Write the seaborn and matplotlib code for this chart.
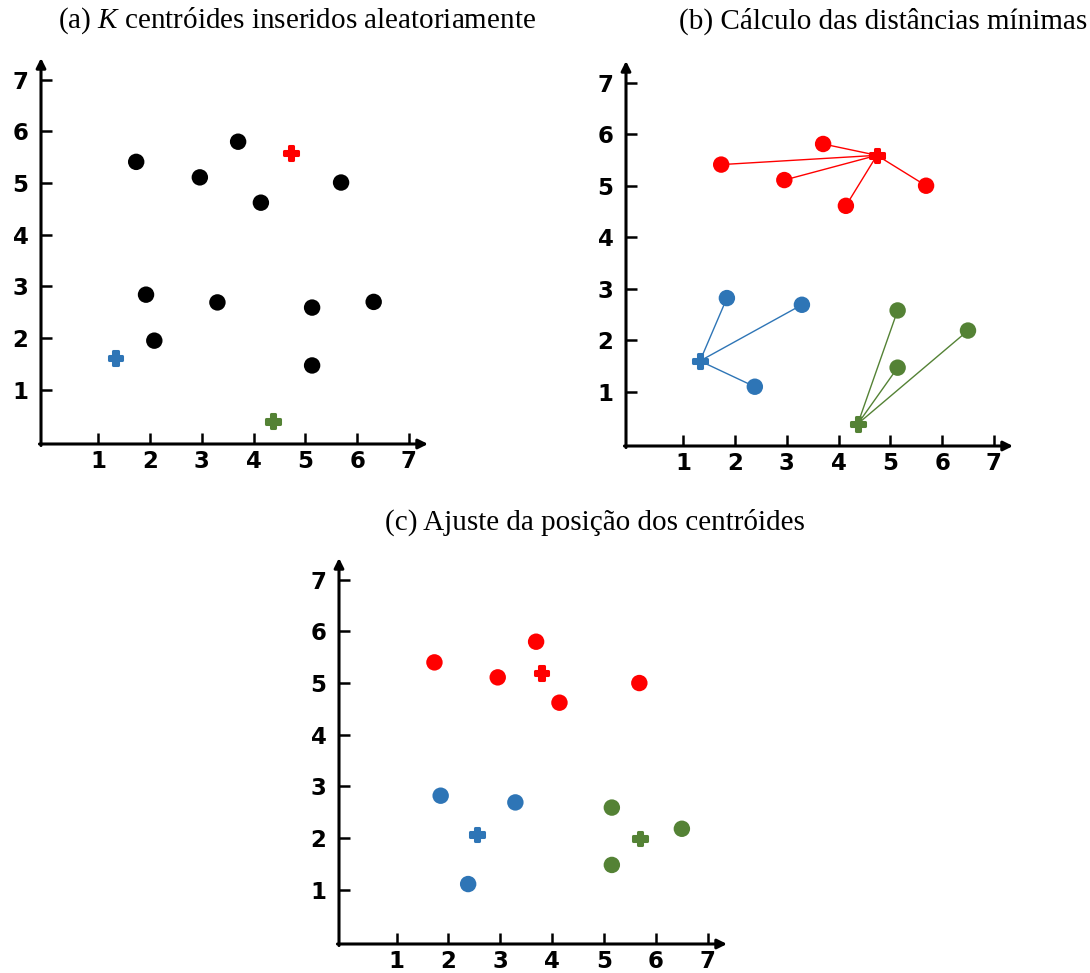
import numpy as np
import pandas as pd
import matplotlib
matplotlib.use("Agg")
import matplotlib.pyplot as plt
import seaborn as sns

# -----------------------------
# Data
# -----------------------------
# (a) random centroids, points not yet assigned
a_pts_x = [1.73, 2.96, 3.70, 4.14, 5.69, 1.92, 3.30, 5.13, 6.32, 2.08, 5.13]
a_pts_y = [5.41, 5.11, 5.80, 4.62, 5.01, 2.84, 2.69, 2.59, 2.70, 1.95, 1.47]

clusters = ["red", "blue", "green"]
a_cent_x = [4.72, 1.33, 4.37]
a_cent_y = [5.58, 1.61, 0.39]

# (b) points assigned to the nearest centroid
b_pts_x = [1.73, 2.95, 3.70, 4.14, 5.69, 1.84, 3.29, 2.38, 5.14, 5.14, 6.50]
b_pts_y = [5.41, 5.11, 5.81, 4.61, 5.00, 2.82, 2.69, 1.10, 2.58, 1.47, 2.19]
b_pts_c = ["red"] * 5 + ["blue"] * 3 + ["green"] * 3
b_cent_x = [4.74, 1.32, 4.37]
b_cent_y = [5.59, 1.60, 0.38]

# (c) centroids moved to cluster means
c_pts_x = [1.73, 2.95, 3.69, 4.14, 5.68, 1.85, 3.29, 2.38, 5.15, 5.15, 6.50]
c_pts_y = [5.40, 5.11, 5.80, 4.62, 5.00, 2.82, 2.69, 1.11, 2.59, 1.48, 2.18]
c_pts_c = b_pts_c
c_cent_x = [3.79, 2.55, 5.69]
c_cent_y = [5.19, 2.07, 1.99]

ticks = [1, 2, 3, 4, 5, 6, 7]

palette = {"red": "#ff0000", "blue": "#2e75b6", "green": "#548235", "black": "#000000"}

titles = ["(a) $K$ centróides inseridos aleatoriamente",
          "(b) Cálculo das distâncias mínimas",
          "(c) Ajuste da posição dos centróides"]

# -----------------------------
# Figure
# -----------------------------
sns.set_style("white")
plt.rcParams["font.family"] = ["DejaVu Sans"]
plt.rcParams["mathtext.fontset"] = "custom"
plt.rcParams["mathtext.it"] = "Liberation Serif:italic"
plt.rcParams["mathtext.rm"] = "Liberation Serif"

W, H = 1090, 973
fig = plt.figure(figsize=(W / 100, H / 100), dpi=100)


def add_axes_px(left, right, bottom, top):
    return fig.add_axes([left / W, 1 - bottom / H, (right - left) / W, (bottom - top) / H])


ax_a = add_axes_px(41, 428, 444, 58)
ax_b = add_axes_px(626, 1013, 446, 61)
ax_c = add_axes_px(339, 727, 944, 558)


def style_axes(ax):
    ax.set_xlim(-0.11, 7.37)
    ax.set_ylim(-0.05, 7.42)
    for s in ax.spines.values():
        s.set_visible(False)
    ax.set_xticks(ticks)
    ax.set_yticks(ticks)
    ax.set_xticklabels([str(t) for t in ticks])
    ax.set_yticklabels([str(t) for t in ticks])
    ax.tick_params(axis="both", direction="in", length=8, width=1.8, color="black",
                   labelcolor="black", labelsize=16.5, bottom=True, left=True)
    ax.tick_params(axis="x", pad=4.5)
    ax.tick_params(axis="y", pad=9)
    for lab in ax.get_xticklabels() + ax.get_yticklabels():
        lab.set_fontweight("bold")
    ax.set_xlabel("")
    ax.set_ylabel("")
    arrow = dict(arrowstyle="-|>", lw=2.2, color="black", mutation_scale=14,
                 shrinkA=0, shrinkB=0)
    ax.annotate("", xy=(1, 0), xytext=(-0.004, 0), xycoords="axes fraction",
                arrowprops=arrow, annotation_clip=False)
    ax.annotate("", xy=(0, 1), xytext=(0, -0.004), xycoords="axes fraction",
                arrowprops=arrow, annotation_clip=False)
    ax.set_facecolor("none")


def draw_centroids(ax, cx, cy):
    cdf = pd.DataFrame({"x": cx, "y": cy, "c": clusters})
    sns.scatterplot(data=cdf, x="x", y="y", hue="c", palette=palette, marker="P",
                    s=95, linewidth=2.2, edgecolor="face", legend=False, ax=ax, zorder=4)


# (a)
a_df = pd.DataFrame({"x": a_pts_x, "y": a_pts_y, "c": "black"})
sns.scatterplot(data=a_df, x="x", y="y", hue="c", palette=palette, s=140,
                linewidth=0, legend=False, ax=ax_a, zorder=3)
draw_centroids(ax_a, a_cent_x, a_cent_y)

# (b) lines from each point to its centroid
cent_b = {c: (x, y) for c, x, y in zip(clusters, b_cent_x, b_cent_y)}
seg_rows = []
for i, (x, y, c) in enumerate(zip(b_pts_x, b_pts_y, b_pts_c)):
    seg_rows.append({"seg": i, "x": x, "y": y, "c": c})
    seg_rows.append({"seg": i, "x": cent_b[c][0], "y": cent_b[c][1], "c": c})
seg_df = pd.DataFrame(seg_rows)
sns.lineplot(data=seg_df, x="x", y="y", hue="c", units="seg", estimator=None,
             sort=False, palette=palette, linewidth=1.0, legend=False, ax=ax_b, zorder=2)
b_df = pd.DataFrame({"x": b_pts_x, "y": b_pts_y, "c": b_pts_c})
sns.scatterplot(data=b_df, x="x", y="y", hue="c", palette=palette, s=140,
                linewidth=0, legend=False, ax=ax_b, zorder=3)
draw_centroids(ax_b, b_cent_x, b_cent_y)

# (c)
c_df = pd.DataFrame({"x": c_pts_x, "y": c_pts_y, "c": c_pts_c})
sns.scatterplot(data=c_df, x="x", y="y", hue="c", palette=palette, s=140,
                linewidth=0, legend=False, ax=ax_c, zorder=3)
draw_centroids(ax_c, c_cent_x, c_cent_y)

for ax in (ax_a, ax_b, ax_c):
    style_axes(ax)

# titles
title_kw = dict(fontsize=21, family="Liberation Serif", ha="center", va="center",
                color="black")
fig.text(297 / W, 1 - 21 / H, titles[0], **title_kw)
fig.text(883 / W, 1 - 21 / H, titles[1], **title_kw)
fig.text(595 / W, 1 - 522 / H, titles[2], **title_kw)

fig.savefig("out.png", dpi=100)
